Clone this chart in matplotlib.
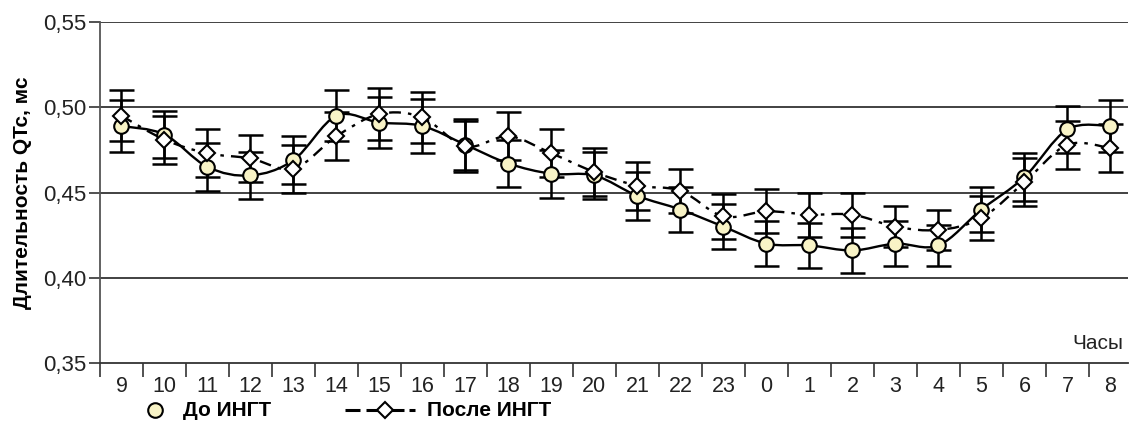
import numpy as np
import matplotlib.pyplot as plt
from matplotlib.path import Path
from matplotlib.patches import PathPatch
from matplotlib.lines import Line2D

plt.rcParams['font.family'] = ['Liberation Sans', 'DejaVu Sans']

hours = ['9', '10', '11', '12', '13', '14', '15', '16', '17', '18', '19', '20',
         '21', '22', '23', '0', '1', '2', '3', '4', '5', '6', '7', '8']

# До ИНГТ
before = [0.489, 0.484, 0.465, 0.460, 0.469, 0.495, 0.491, 0.489, 0.478, 0.467,
          0.461, 0.460, 0.448, 0.440, 0.430, 0.420, 0.419, 0.416, 0.420, 0.419,
          0.440, 0.459, 0.487, 0.489]
before_err = [0.015, 0.014, 0.014, 0.014, 0.014, 0.015, 0.015, 0.016, 0.015, 0.014,
              0.014, 0.014, 0.014, 0.013, 0.013, 0.013, 0.013, 0.013, 0.013, 0.012,
              0.013, 0.014, 0.014, 0.015]

# После ИНГТ
after = [0.495, 0.481, 0.473, 0.470, 0.464, 0.483, 0.496, 0.494, 0.477, 0.483,
         0.473, 0.462, 0.454, 0.451, 0.436, 0.439, 0.437, 0.437, 0.430, 0.428,
         0.435, 0.456, 0.478, 0.476]
after_err = [0.015, 0.014, 0.014, 0.014, 0.014, 0.014, 0.015, 0.015, 0.015, 0.014,
             0.014, 0.014, 0.014, 0.013, 0.013, 0.013, 0.013, 0.013, 0.012, 0.012,
             0.013, 0.014, 0.014, 0.014]

yticks = [0.35, 0.40, 0.45, 0.50, 0.55]


def smooth_path(x, y):
    # catmull-rom like curve drawn as cubic bezier segments
    n = len(x)
    verts = [(x[0], y[0])]
    codes = [Path.MOVETO]
    for i in range(n - 1):
        i0 = max(i - 1, 0)
        i3 = min(i + 2, n - 1)
        c1 = (x[i] + (x[i + 1] - x[i0]) / 6, y[i] + (y[i + 1] - y[i0]) / 6)
        c2 = (x[i + 1] - (x[i3] - x[i]) / 6, y[i + 1] - (y[i3] - y[i]) / 6)
        verts += [c1, c2, (x[i + 1], y[i + 1])]
        codes += [Path.CURVE4] * 3
    return Path(verts, codes)


fig = plt.figure(figsize=(11.29, 4.24), dpi=100)
ax = fig.add_axes([100 / 1129, 61 / 424, 1028 / 1129, 341 / 424])

x = np.arange(len(hours))

for v in yticks[1:]:
    ax.axhline(v, color='#333333', lw=1.3, zorder=1)

ax.add_patch(PathPatch(smooth_path(x, before), fill=False, color='black', lw=1.7, zorder=3))
ax.add_patch(PathPatch(smooth_path(x, after), fill=False, color='black', lw=1.7,
                       linestyle=(0, (5, 3, 1.5, 3)), zorder=4))

ax.errorbar(x, before, yerr=before_err, fmt='none', ecolor='black', elinewidth=1.8,
            capsize=9, capthick=1.8, zorder=5)
ax.errorbar(x, after, yerr=after_err, fmt='none', ecolor='black', elinewidth=1.8,
            capsize=9, capthick=1.8, zorder=5)
ax.plot(x, before, 'o', ms=10.5, mfc='#f8f3c6', mec='black', mew=1.5, zorder=6)
ax.plot(x, after, 'D', ms=8.5, mfc='white', mec='black', mew=1.5, zorder=7)

ax.set_xlim(-0.5, 23.41)
ax.set_ylim(0.35, 0.55)

ax.set_xticks(np.arange(-0.5, 23, 1))
ax.set_xticklabels([])
ax.set_xticks(x, minor=True)
ax.set_xticklabels(hours, minor=True)
ax.tick_params(axis='x', which='major', direction='out', length=10, width=1.2, color='#333333')
ax.tick_params(axis='x', which='minor', length=0, pad=9, labelsize=15.5, labelcolor='#222222')

ax.set_yticks(yticks)
ax.set_yticklabels([f'{v:.2f}'.replace('.', ',') for v in yticks])
ax.tick_params(axis='y', direction='out', length=8, width=1.2, color='#333333',
               labelsize=16, labelcolor='#222222', pad=2)

for s in ['top', 'right']:
    ax.spines[s].set_visible(False)
ax.spines['left'].set_color('#555555')
ax.spines['left'].set_linewidth(1.3)
ax.spines['bottom'].set_color('#333333')
ax.spines['bottom'].set_linewidth(1.3)

ax.set_ylabel('Длительность QTc, мс', fontsize=15, fontweight='bold', labelpad=8)
ax.text(23.3, 0.356, 'Часы', ha='right', va='bottom', fontsize=15, color='#222222')

# legend at the bottom
ly = 14 / 424
fx = lambda px: px / 1129
fig.add_artist(Line2D([fx(155)], [ly], transform=fig.transFigure, marker='o', ms=10.5,
                      mfc='#f8f3c6', mec='black', mew=1.5, ls='none'))
fig.text(fx(183), ly, 'До ИНГТ', fontsize=15, fontweight='bold', va='center')
for x0, x1 in [(345, 360), (366, 404), (409, 415)]:
    fig.add_artist(Line2D([fx(x0), fx(x1)], [ly, ly], transform=fig.transFigure,
                          color='black', lw=2.2, solid_capstyle='butt'))
fig.add_artist(Line2D([fx(385)], [ly], transform=fig.transFigure, marker='D', ms=8.5,
                      mfc='white', mec='black', mew=1.5, ls='none'))
fig.text(fx(427), ly, 'После ИНГТ', fontsize=15, fontweight='bold', va='center')

fig.savefig('out.png', dpi=100)
